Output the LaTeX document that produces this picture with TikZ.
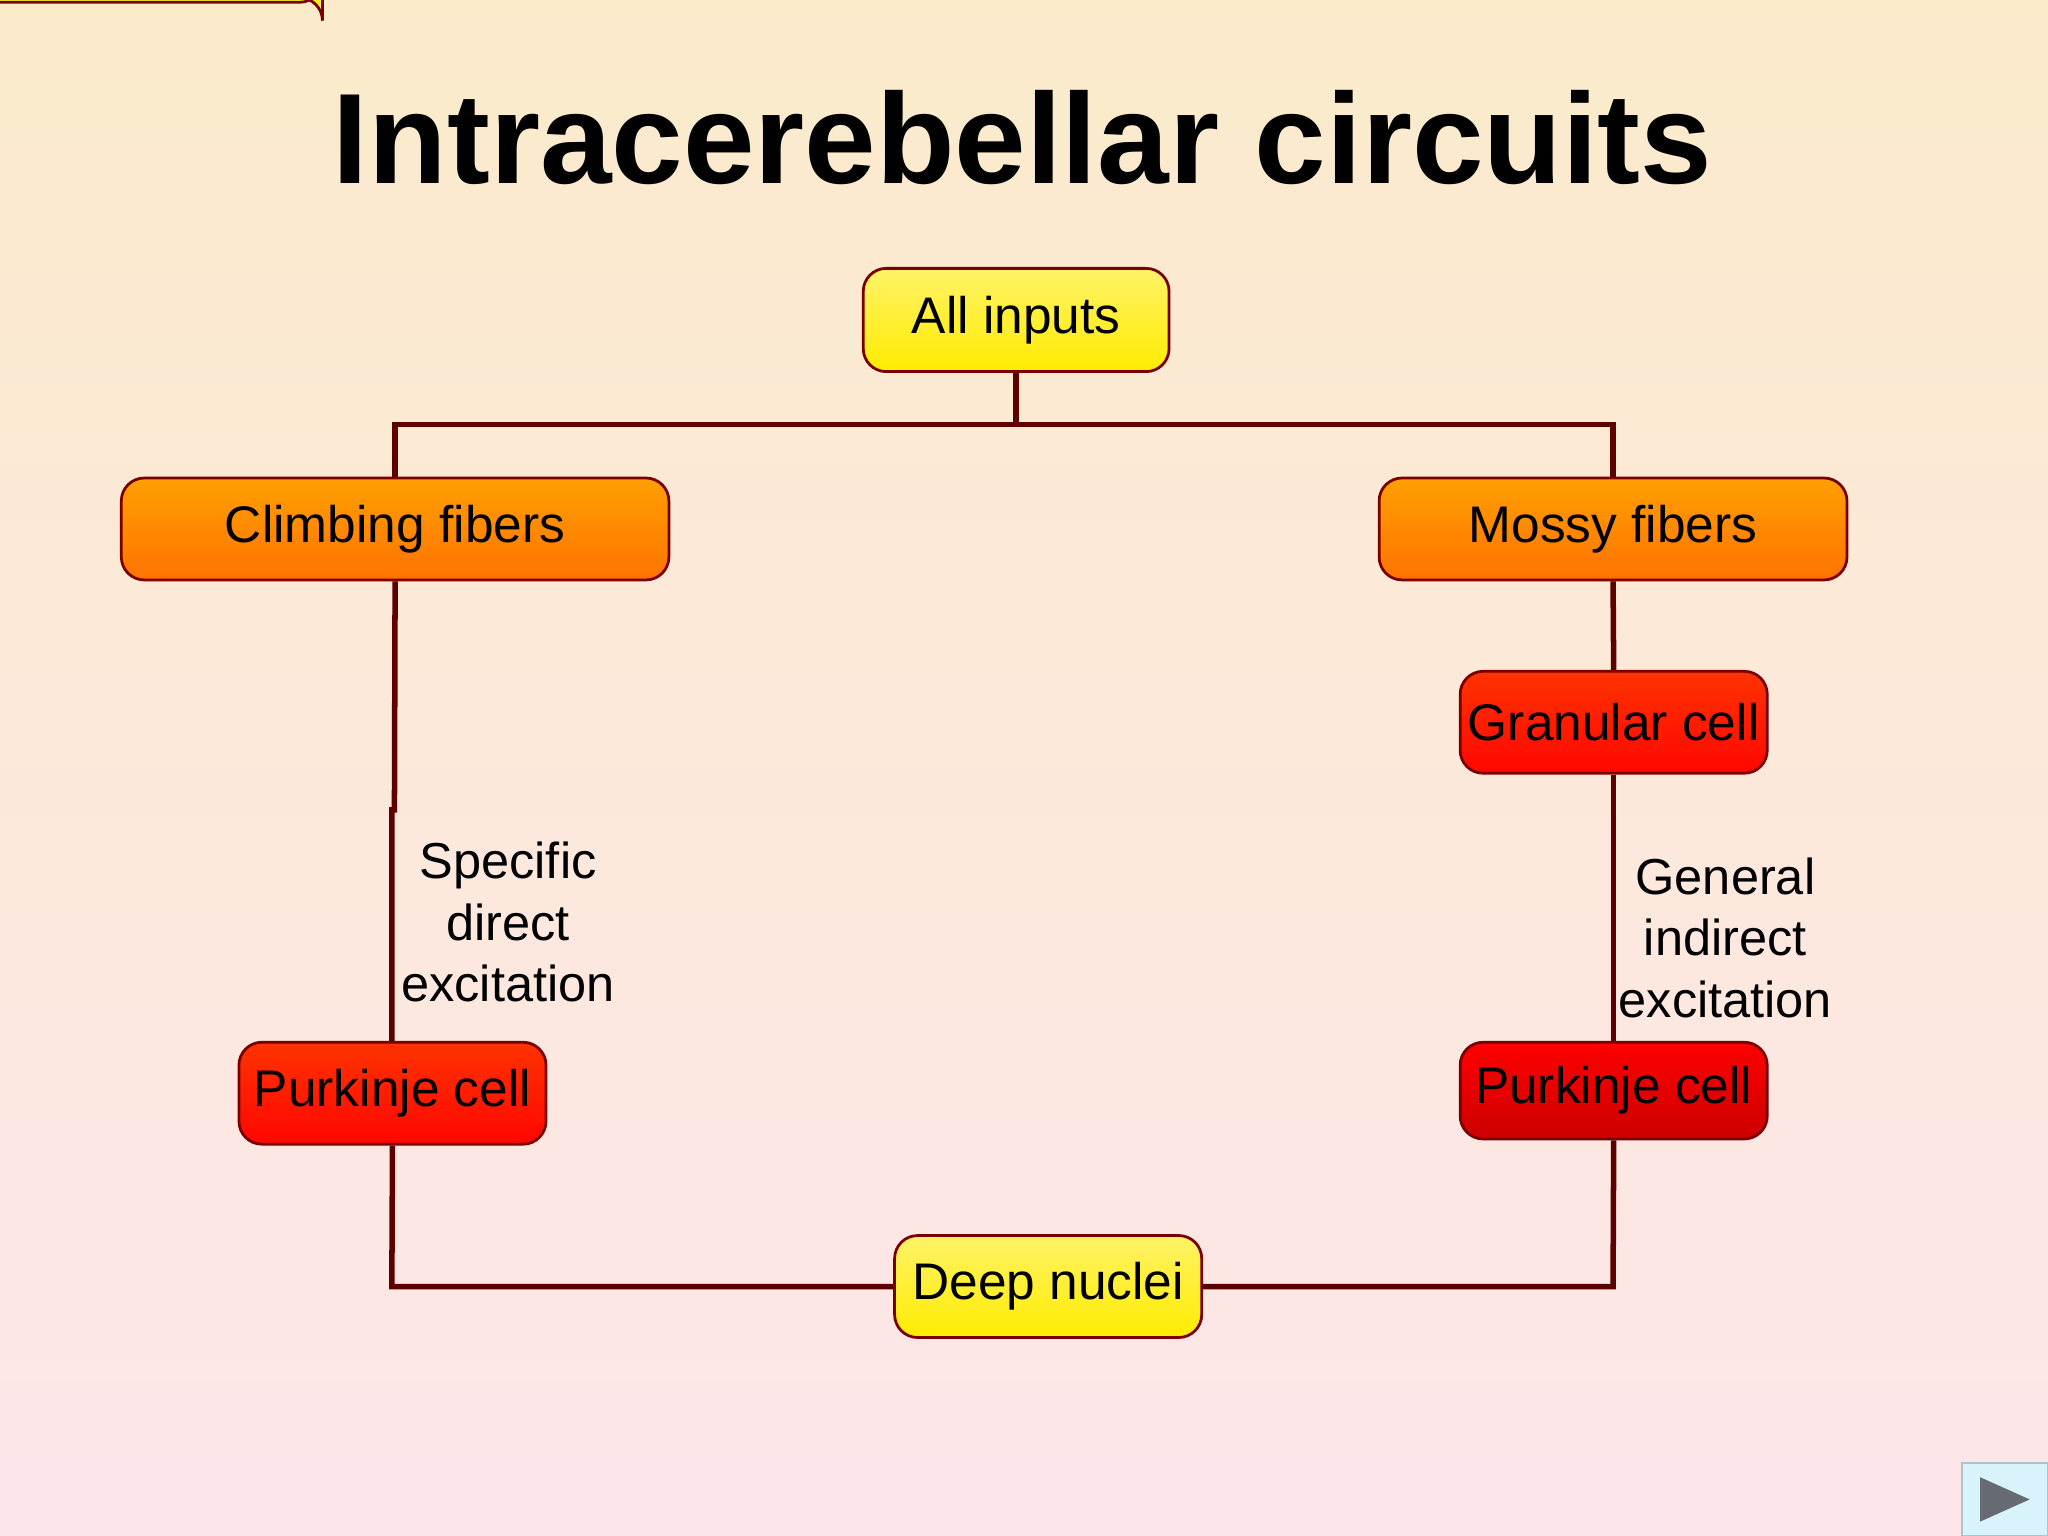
\documentclass[tikz,border=0pt]{standalone}
\usepackage{fontspec}
\setmainfont{Liberation Sans}
\begin{document}
\begin{tikzpicture}[x=0.01cm,y=-0.01cm,
 box/.style={draw=black!40!red!80!black, rounded corners=5pt, line width=0.6pt, inner sep=0pt, font=\fontsize{11.2}{13}\selectfont},
 yel/.style={box, top color=yellow!55!white!90!orange, bottom color=yellow!85!orange},
 org/.style={box, top color=orange!75!yellow, bottom color=orange!90!red},
 red1/.style={box, top color=red!60!orange, bottom color=red!95!orange},
 red2/.style={box, top color=red, bottom color=red!80!black},
 wire/.style={draw=black!40!red!60!black, line width=1.2pt},
 lbl/.style={align=center, font=\fontsize{11}{13.4}\selectfont}]
\shade[top color={rgb,255:red,251;green,235;blue,203}, bottom color={rgb,255:red,253;green,230;blue,234}] (0,0) rectangle (1568,1176);
\useasboundingbox (0,0) rectangle (1568,1176);
\node[font=\bfseries\fontsize{28}{32}\selectfont] (title) at (783,105) {Intracerebellar circuits};
\node[yel, minimum width=234\pgflinewidth, text width=0pt] at (0,0) {};
\node[yel, minimum width=2.34cm, minimum height=0.79cm] (all) at (778,245) {All inputs};
\node[org, minimum width=4.19cm, minimum height=0.78cm] (climb) at (302.5,405) {Climbing fibers};
\node[org, minimum width=3.58cm, minimum height=0.78cm] (mossy) at (1235,405) {Mossy fibers};
\node[red1, minimum width=2.35cm, minimum height=0.78cm] (gran) at (1235.5,553) {Granular cell};
\node[red1, minimum width=2.35cm, minimum height=0.78cm] (pl) at (300.5,837) {Purkinje cell};
\node[red2, minimum width=2.35cm, minimum height=0.74cm] (pr) at (1235.5,835) {Purkinje cell};
\node[yel, minimum width=2.35cm, minimum height=0.78cm] (deep) at (802.5,985) {Deep nuclei};
\coordinate (top) at (778,325);
\coordinate (jog) at (302,620);
\begin{scope}[on background layer/.try]
\end{scope}
\draw[wire] (all.south) -- (top) -| (climb.north);
\draw[wire] (top) -| (mossy.north);
\draw[wire] (climb.south) -- (jog) -- ++(-2,0) -- (pl.north -| 300,0);
\draw[wire] (pl.south) -- (300,985) -- (deep.west);
\draw[wire] (mossy.south) -- (gran.north);
\draw[wire] (gran.south) -- (pr.north);
\draw[wire] (pr.south) -- (1235,985) -- (deep.east);
\node[lbl] (l1) at (389,706) {Specific\\direct\\excitation};
\node[lbl] (l2) at (1321,718) {General\\indirect\\excitation};
\node[draw=cyan!30!gray!60, fill=cyan!15!white, minimum width=0.66cm, minimum height=0.56cm, inner sep=0pt] (nav) at (1535,1148) {};
\fill[gray!80!cyan!60!black] (1516,1131) -- (1554,1148) -- (1516,1165) -- cycle;
\end{tikzpicture}
\end{document}
